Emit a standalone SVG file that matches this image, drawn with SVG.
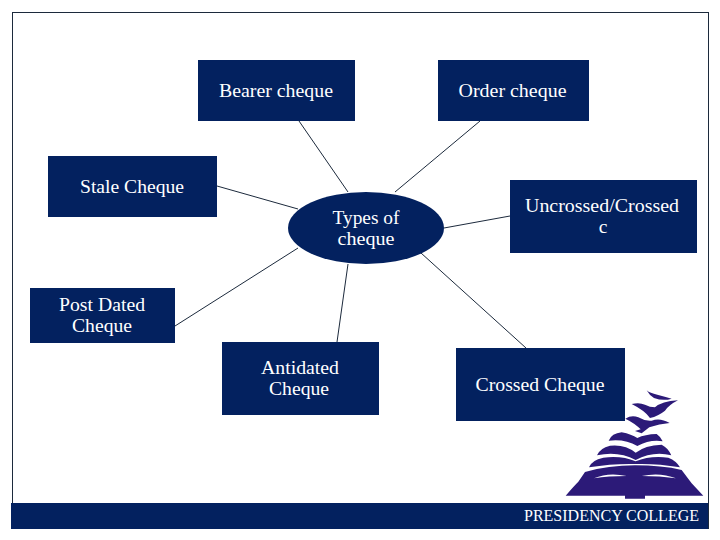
<svg xmlns="http://www.w3.org/2000/svg" width="720" height="540" viewBox="0 0 720 540">
<style>
.n{fill:#03215f}
.t{font-family:"Liberation Serif",serif;font-size:19.5px;fill:#fff;text-anchor:middle}
.c{stroke:#1c2a3c;stroke-width:1;fill:none}
.l{fill:#2c1a78}
.w{fill:#fff}
</style>
<rect width="720" height="540" fill="#fff"/>
<rect x="12.5" y="12.5" width="696" height="516" fill="#fff" stroke="#1c2a3c" stroke-width="1"/>
<g id="connectors" class="c">
<line x1="299" y1="121" x2="348" y2="192"/>
<line x1="480" y1="121" x2="395" y2="192"/>
<line x1="217" y1="186" x2="298" y2="209"/>
<line x1="510" y1="216" x2="444" y2="228"/>
<line x1="298" y1="248" x2="175" y2="326"/>
<line x1="348" y1="264" x2="337" y2="342"/>
<line x1="421" y1="253" x2="526" y2="348"/>
</g>
<g id="bearer"><rect class="n" x="198" y="60" width="157" height="61"/><text class="t" x="276" y="97" textLength="114" lengthAdjust="spacingAndGlyphs">Bearer cheque</text></g>
<g id="order"><rect class="n" x="438" y="60" width="151" height="61"/><text class="t" x="512.5" y="97" textLength="108" lengthAdjust="spacingAndGlyphs">Order cheque</text></g>
<g id="stale"><rect class="n" x="48" y="156" width="169" height="61"/><text class="t" x="132" y="193" textLength="104" lengthAdjust="spacingAndGlyphs">Stale Cheque</text></g>
<g id="types"><ellipse class="n" cx="366" cy="228" rx="78" ry="36"/><text class="t" x="366" y="224" textLength="67" lengthAdjust="spacingAndGlyphs">Types of</text><text class="t" x="366" y="245" textLength="57" lengthAdjust="spacingAndGlyphs">cheque</text></g>
<g id="uncrossed"><rect class="n" x="510" y="180" width="187" height="73"/><text class="t" x="602" y="212" textLength="154" lengthAdjust="spacingAndGlyphs">Uncrossed/Crossed</text><text class="t" x="603" y="233">c</text></g>
<g id="postdated"><rect class="n" x="30" y="288" width="145" height="55"/><text class="t" x="102" y="311" textLength="86" lengthAdjust="spacingAndGlyphs">Post Dated</text><text class="t" x="102" y="332" textLength="60" lengthAdjust="spacingAndGlyphs">Cheque</text></g>
<g id="antidated"><rect class="n" x="222" y="342" width="157" height="73"/><text class="t" x="300" y="374" textLength="78" lengthAdjust="spacingAndGlyphs">Antidated</text><text class="t" x="299" y="395" textLength="60" lengthAdjust="spacingAndGlyphs">Cheque</text></g>
<g id="crossed"><rect class="n" x="456" y="348" width="169" height="73"/><text class="t" x="540" y="391" textLength="129" lengthAdjust="spacingAndGlyphs">Crossed Cheque</text></g>
<rect class="n" x="11" y="503" width="697" height="26"/>
<text x="611.5" y="521" text-anchor="middle" textLength="175" lengthAdjust="spacingAndGlyphs" style="font-family:'Liberation Serif',serif;font-size:16px;fill:#fff">PRESIDENCY COLLEGE</text>
<g id="logo" transform="translate(550 380) scale(.3333)">
<path class="l" d="M290 31 Q300 40 322 44 Q345 50 365 56 Q340 64 312 54 Q298 46 290 31Z"/>
<path class="l" d="M245 72 Q268 66 285 74 Q300 82 315 82 Q335 64 384 61 Q358 74 345 92 Q325 108 300 114 Q285 92 245 72Z"/>
<path class="l" d="M226 116 Q245 104 265 112 Q285 124 305 122 Q330 112 359 129 Q328 132 298 142 L275 160 L255 153 L272 148 Q255 130 226 116Z"/>
<path class="l" d="M176 182 Q185 160 215 157 Q245 163 262 174 Q285 163 320 162 Q332 170 338 184 Q300 178 262 198 Q225 176 176 182Z"/>
<path class="l" d="M141 226 Q150 204 180 197 Q225 192 257 218 Q285 196 335 194 Q355 204 364 226 Q310 212 257 240 Q205 212 141 226Z"/>
<path class="l" d="M117 262 Q125 240 160 233 Q215 226 257 244 Q300 226 355 233 Q380 243 390 262 Q320 250 257 252 Q190 250 117 262Z"/>
<path class="l" d="M47 347 Q70 320 85 305 L105 276 Q175 256 255 256 Q335 256 395 270 Q410 290 425 310 L460 347 L285 347 L285 356 L225 356 L225 347Z"/>
<path class="w" d="M132 295 Q175 276 230 288 Q175 288 132 295Z"/>
<path class="w" d="M275 288 Q330 276 378 295 Q330 288 275 288Z"/>
</g>
</svg>
